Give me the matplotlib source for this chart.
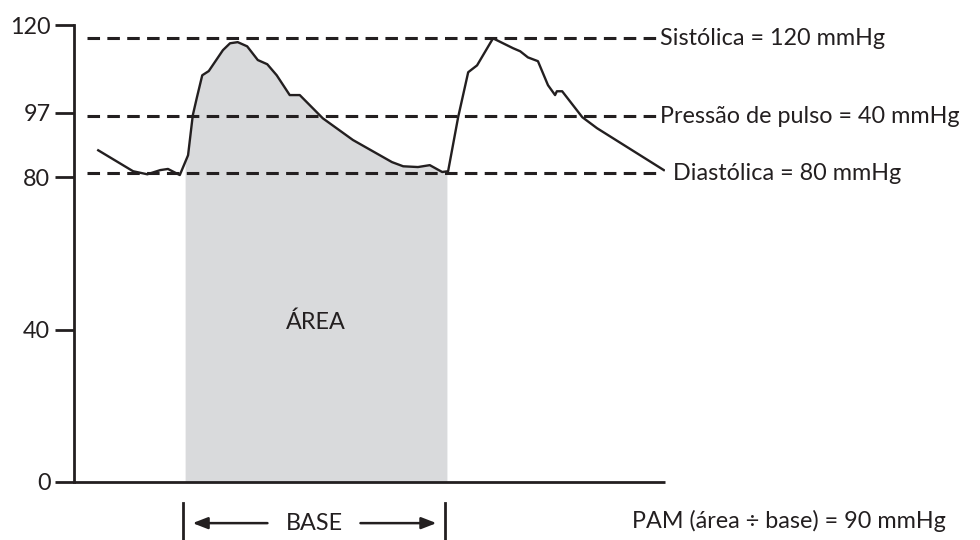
import numpy as np
import matplotlib
matplotlib.use("Agg")
import matplotlib.pyplot as plt

plt.rcParams["font.family"] = ["Lato", "DejaVu Sans"]

# pressure wave (time in arbitrary units, pressure in mmHg)
t = [4.1, 10.0, 12.4, 14.6, 15.9, 17.9, 19.3, 20.1, 20.8, 21.7, 22.8, 25.2,
     26.4, 27.7, 29.3, 31.1, 32.7, 34.3, 36.5, 38.2, 42.1, 47.2, 53.8, 55.7,
     58.2, 60.2, 62.3, 63.3, 65.0, 66.7, 68.2, 70.9, 74.3, 75.5, 76.8, 78.5,
     80.2, 81.4, 81.7, 82.6, 86.0, 88.5, 99.8]
p = [87.1, 81.6, 80.8, 81.9, 82.2, 80.6, 85.8, 96.3, 101.0, 106.8, 107.9, 113.4,
     115.2, 115.5, 114.4, 110.8, 109.7, 106.8, 101.6, 101.6, 95.5, 89.8, 84.0, 82.9,
     82.7, 83.2, 81.4, 81.6, 95.8, 107.6, 109.4, 116.5, 113.9, 113.1, 111.5, 110.5,
     104.2, 101.6, 102.6, 102.6, 95.8, 92.9, 81.9]

base_start, base_end = 18.8, 63.1

ref_levels = [116.5, 96.0, 81.1]
ref_labels = ["Sistólica = 120 mmHg", "Pressão de pulso = 40 mmHg", "Diastólica = 80 mmHg"]
ref_label_x = [99.1, 99.1, 101.3]

yticks = [0, 40, 80, 97, 120]

ink = "#231f20"
fs = 16.8

fig = plt.figure(figsize=(9.8, 5.4), dpi=100)
ax = fig.add_axes([74 / 980, 58 / 540, 591 / 980, 457 / 540])

# shaded area under one cycle
tf = np.linspace(base_start, base_end, 300)
ax.fill_between(tf, 0, np.interp(tf, t, p), color="#d9dadc", lw=0)

for lvl, lab, lx in zip(ref_levels, ref_labels, ref_label_x):
    ax.plot([2.2, 98.6], [lvl, lvl], color=ink, lw=2.2, ls=(0, (4.1, 2.4)))
    ax.text(lx, lvl, lab, fontsize=fs, color=ink, va="center", ha="left")

ax.plot(t, p, color=ink, lw=1.7, solid_joinstyle="round")

ax.text(41.0, 42, "ÁREA", fontsize=fs, color=ink, ha="center", va="center")

# base annotation below the axis
for bx in [base_start - 0.3, base_end - 0.3]:
    ax.plot([bx, bx], [-5.5, -16], color=ink, lw=2, clip_on=False)
ax.annotate("", xy=(19.6, -10.8), xytext=(33.2, -10.8),
            arrowprops=dict(arrowstyle="-|>,head_length=0.9,head_width=0.35",
                            color=ink, lw=1.8), annotation_clip=False)
ax.annotate("", xy=(61.8, -10.8), xytext=(48.0, -10.8),
            arrowprops=dict(arrowstyle="-|>,head_length=0.9,head_width=0.35",
                            color=ink, lw=1.8), annotation_clip=False)
ax.text(40.6, -10.8, "BASE", fontsize=fs, color=ink, ha="center", va="center")

ax.text(94.4, -10.3, "PAM (área ÷ base) = 90 mmHg", fontsize=fs, color=ink,
        ha="left", va="center")

ax.set_xlim(0, 100)
ax.set_ylim(0, 120)
ax.set_xticks([])
ax.set_yticks(yticks)
ax.tick_params(axis="y", length=14, width=2, direction="out", pad=3,
               labelsize=fs, colors=ink)
for s in ["top", "right"]:
    ax.spines[s].set_visible(False)
for s in ["left", "bottom"]:
    ax.spines[s].set_linewidth(2)
    ax.spines[s].set_color(ink)
ax.spines["bottom"].set_capstyle("butt")

fig.savefig("out.png", dpi=100)
